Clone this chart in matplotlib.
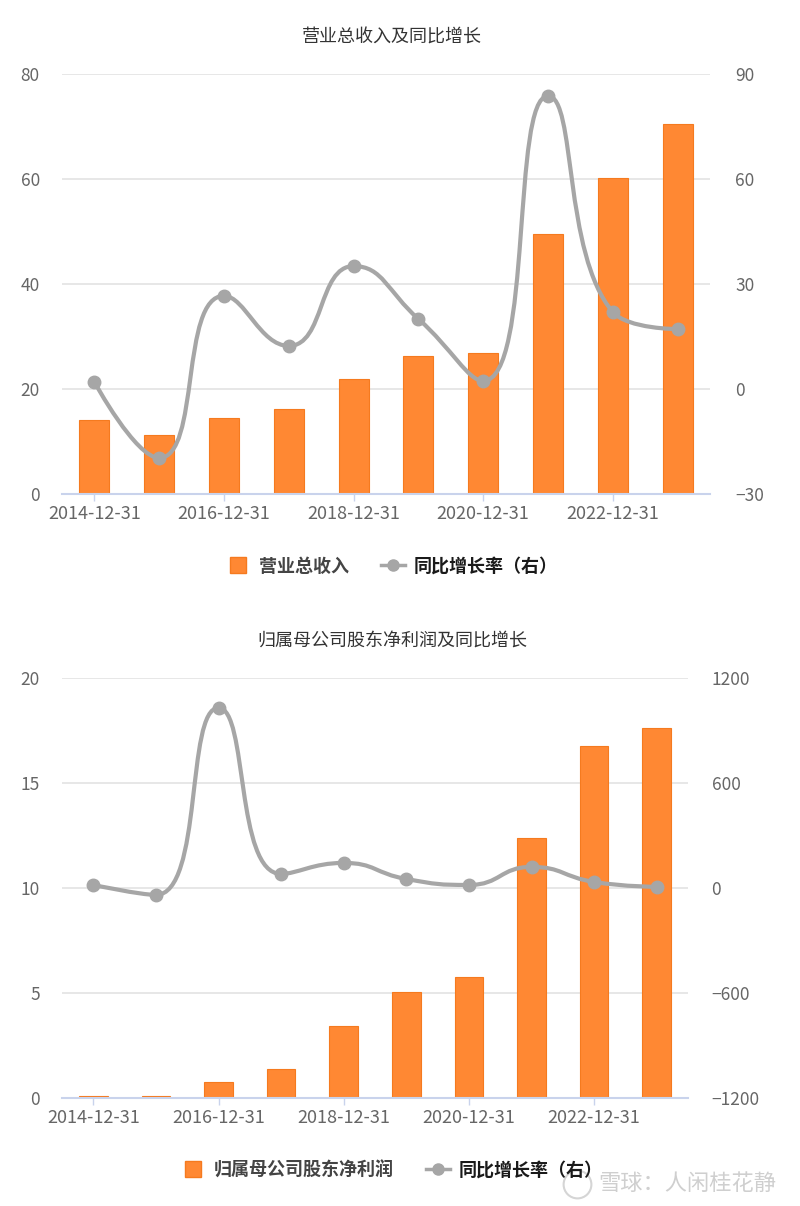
import numpy as np
import matplotlib
matplotlib.use("Agg")
import matplotlib.pyplot as plt
from matplotlib.path import Path
from matplotlib.patches import PathPatch
from matplotlib.lines import Line2D

plt.rcParams['font.family'] = ['Noto Sans CJK SC', 'DejaVu Sans']

years = ["2014-12-31", "2015-12-31", "2016-12-31", "2017-12-31", "2018-12-31",
         "2019-12-31", "2020-12-31", "2021-12-31", "2022-12-31", "2023-12-31"]
revenue = [14.1, 11.2, 14.5, 16.2, 21.9, 26.3, 26.9, 49.5, 60.2, 70.5]
revenue_growth = [2.0, -19.7, 26.6, 12.3, 35.1, 20.0, 2.3, 83.7, 22.0, 17.1]
profit = [0.11, 0.07, 0.76, 1.38, 3.43, 5.05, 5.76, 12.4, 16.76, 17.6]
profit_growth = [17, -40, 1029, 80, 143, 51, 17, 120, 34, 6]

title1 = "营业总收入及同比增长"
title2 = "归属母公司股东净利润及同比增长"
legend1 = ["营业总收入", "同比增长率（右）"]
legend2 = ["归属母公司股东净利润", "同比增长率（右）"]

BAR = "#FF8833"
BAR_EDGE = "#F57A1F"
LINE = "#A6A6A6"
GRID = "#E3E3E3"
AXIS = "#C9D3EC"
TXT = "#666666"

fig = plt.figure(figsize=(8, 12.06), dpi=100)


def smooth_path(xs, ys, sx, sy, smooth=0.5):
    """ECharts-style smoothed polyline (with extreme constraint), computed in pixel space."""
    P = np.column_stack([np.array(xs, float) * sx, np.array(ys, float) * sy])
    n = len(P)
    verts = [P[0].copy()]
    codes = [Path.MOVETO]
    cp0 = P[0].copy()
    for k in range(1, n):
        x, y = P[k]
        px, py = P[k - 1]
        if k == n - 1:
            cp1 = P[k].copy()
            next_cp0 = P[k].copy()
        else:
            nx, ny = P[k + 1]
            vx, vy = nx - px, ny - py
            lp = np.hypot(x - px, y - py)
            ln = np.hypot(nx - x, ny - y)
            r = ln / (ln + lp)
            ncx = x + vx * smooth * r
            ncy = y + vy * smooth * r
            ncx = min(ncx, max(nx, x)); ncy = min(ncy, max(ny, y))
            ncx = max(ncx, min(nx, x)); ncy = max(ncy, min(ny, y))
            vx, vy = ncx - x, ncy - y
            c1x = x - vx * lp / ln
            c1y = y - vy * lp / ln
            c1x = min(c1x, max(px, x)); c1y = min(c1y, max(py, y))
            c1x = max(c1x, min(px, x)); c1y = max(c1y, min(py, y))
            vx, vy = x - c1x, y - c1y
            ncx = x + vx * ln / lp
            ncy = y + vy * ln / lp
            cp1 = np.array([c1x, c1y])
            next_cp0 = np.array([ncx, ncy])
        verts += [cp0, cp1, P[k].copy()]
        codes += [Path.CURVE4] * 3
        cp0 = next_cp0
    verts = np.array(verts)
    verts[:, 0] /= sx
    verts[:, 1] /= sy
    return Path(verts, codes)


def panel(rect, vals, growth, ylim, yticks, rlim, rticks, title, title_y, legend_labels, legend_y, rpad):
    ax = fig.add_axes(rect)
    x = np.arange(len(years))
    ax.bar(x, vals, width=0.46, color=BAR, edgecolor=BAR_EDGE, linewidth=0.8, zorder=2)
    ax.set_xlim(-0.5, len(years) - 0.5)
    ax.set_ylim(*ylim)
    ax.set_yticks(yticks)
    ax.yaxis.grid(True, color=GRID, linewidth=1.2, zorder=0)
    ax.set_axisbelow(True)
    for s in ["top", "right", "left"]:
        ax.spines[s].set_visible(False)
    ax.spines["bottom"].set_color(AXIS)
    ax.spines["bottom"].set_linewidth(1.5)
    ax.set_xticks(x[::2])
    ax.set_xticklabels([years[i] for i in range(0, len(years), 2)])
    ax.tick_params(axis="x", length=5, color=AXIS, width=1, labelsize=13, labelcolor=TXT, pad=3)
    ax.tick_params(axis="y", length=0, labelsize=12.5, labelcolor=TXT, pad=16)

    ax2 = ax.twinx()
    ax2.set_ylim(*rlim)
    ax2.set_yticks(rticks)
    for s in ax2.spines.values():
        s.set_visible(False)
    ax2.tick_params(axis="y", length=0, labelsize=12.5, labelcolor=TXT, pad=rpad)
    ax2.set_yticklabels([str(t).replace("-", "\u2212") for t in rticks])

    bb = ax.get_position()
    W = bb.width * fig.get_figwidth() * fig.dpi
    H = bb.height * fig.get_figheight() * fig.dpi
    sx = W / len(years)
    sy = H / (rlim[1] - rlim[0])
    path = smooth_path(x, growth, sx, sy, 0.5)
    ax2.add_patch(PathPatch(path, facecolor="none", edgecolor=LINE, linewidth=3, zorder=3,
                            capstyle="round", joinstyle="round"))
    ax2.plot(x, growth, "o", color=LINE, markersize=9, zorder=4)

    fig.text(0.49, title_y, title, ha="center", va="center", fontsize=13, color="#333333")
    handles = [
        Line2D([], [], marker="s", linestyle="none", markersize=12, markerfacecolor=BAR, markeredgecolor=BAR_EDGE),
        Line2D([], [], marker="o", color=LINE, linewidth=2.5, markersize=8),
    ]
    leg = fig.legend(handles, legend_labels, loc="center", bbox_to_anchor=(0.49, legend_y), ncol=2,
                     frameon=False, fontsize=13, handlelength=1.3, columnspacing=1.8, handletextpad=0.5)
    for t, c in zip(leg.get_texts(), ["#444444", "#1a1a1a"]):
        t.set_color(c)
        t.set_fontweight("bold")
    return ax, ax2


panel([0.0775, 0.5904, 0.81, 0.3483], revenue, revenue_growth, (0, 80), [0, 20, 40, 60, 80],
      (-30, 90), [-30, 0, 30, 60, 90], title1, 1 - 38 / 1206, legend1, 1 - 566 / 1206, 18)
panel([0.0775, 0.0896, 0.7825, 0.3483], profit, profit_growth, (0, 20), [0, 5, 10, 15, 20],
      (-1200, 1200), [-1200, -600, 0, 600, 1200], title2, 1 - 641 / 1206, legend2, 1 - 1170 / 1206, 17)

fig.text(0.97, 1 - 1183 / 1206, "雪球：人闲桂花静", ha="right", va="center", fontsize=16, color="#cfcfcf")
fig.add_artist(Line2D([577 / 800], [1 - 1184 / 1206], transform=fig.transFigure, marker="o",
                      markersize=20, markerfacecolor="none", markeredgecolor="#d5d5d5",
                      markeredgewidth=1.5, linestyle="none"))

fig.savefig("out.png", dpi=100, facecolor="white")
